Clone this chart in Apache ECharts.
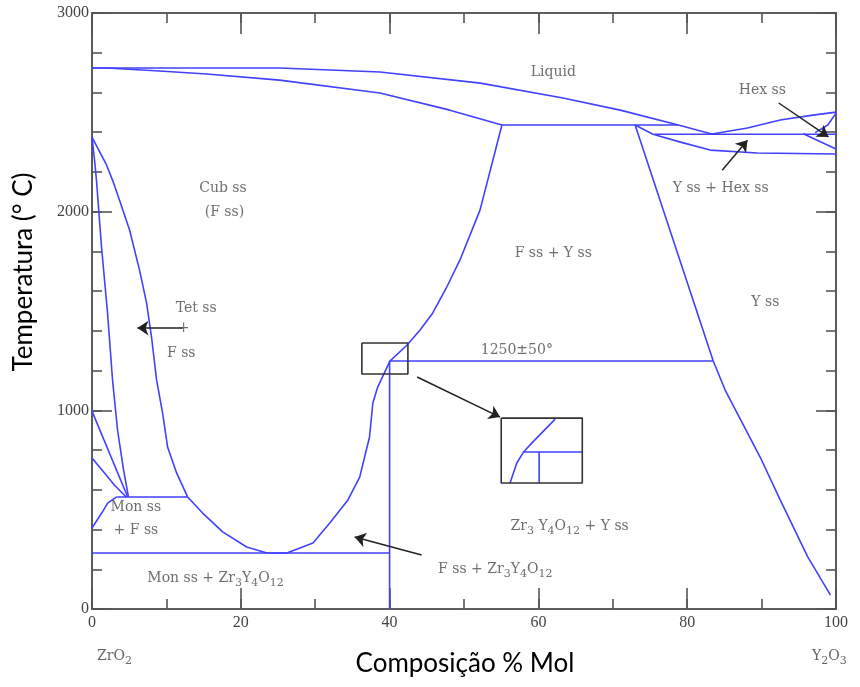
<!DOCTYPE html>
<html>
<head>
<meta charset="utf-8">
<title>ZrO2 - Y2O3</title>
<script src="https://cdn.jsdelivr.net/npm/echarts@6/dist/echarts.min.js"></script>
<style>
  html, body { margin: 0; padding: 0; background: #fff; }
  #chart { width: 860px; height: 687px; }
</style>
</head>
<body>
<div id="chart"></div>
<script>
// eixos
const xRange = [0, 100]
const yRange = [0, 3000]
const xMajor = 20
const xMinor = 10
const yMajor = 1000
const yMinor = 200

// curvas do diagrama (% mol Y2O3, °C)
const liquidusUpper = [[0, 2723], [15.4, 2723], [25.2, 2723], [32, 2713], [38.7, 2703], [52.2, 2647], [63.3, 2572], [71.0, 2511], [78.8, 2436], [83.3, 2391], [88.1, 2421], [92.5, 2461], [96.9, 2486], [100, 2501]]
const liquidusLower = [[0, 2723], [1.95, 2723], [9.1, 2708], [15.4, 2693], [25.2, 2662], [38.7, 2597], [48.1, 2511], [55.1, 2436]]
const cubicBoundary = [[0, 2375], [1.95, 2235], [2.76, 2159], [3.7, 2058], [5.05, 1908], [6.39, 1706], [7.34, 1540], [8.0, 1369], [8.68, 1153], [9.49, 986], [10.16, 815], [11.37, 685], [12.85, 564], [14.87, 483], [17.56, 388], [20.79, 312], [23.5, 282], [26.2, 282], [29.7, 332], [31.96, 433], [34.4, 549], [35.98, 664], [37.3, 866], [37.75, 1037], [38.4, 1117], [40.04, 1248], [42.35, 1329], [44.1, 1404], [45.8, 1490], [47.7, 1622], [49.46, 1757], [52.15, 2008], [55.1, 2436]]
const tetBoundary = [[0, 2375], [0.34, 2260], [0.6, 2159], [1.28, 1822], [2.09, 1490], [2.76, 1153], [3.43, 901], [4.24, 700], [4.9, 564]]
const tetMonTop = [[0, 996], [4.8, 564]]
const tetMonMid = [[0, 760], [1.68, 684], [3.0, 624], [4.6, 564]]
const monBoundary = [[0, 408], [1.3, 483], [2.1, 533], [3.3, 564]]
const line564 = [[3.3, 564], [12.85, 564]]
const line282 = [[0, 282], [40, 282]]
const line40 = [[40, 0], [40, 1248]]
const line1250 = [[40, 1248], [83.5, 1248]]
const line2436 = [[55.1, 2436], [78.8, 2436]]
const yssLeft = [[73.0, 2436], [83.5, 1248], [85.1, 1102], [89.8, 765], [92.5, 549], [96.2, 262], [99.26, 70]]
const yssTop = [[73.0, 2436], [75.4, 2390], [79.1, 2350], [83.1, 2310], [89.4, 2295], [100, 2290]]
const hexLine = [[75.6, 2390], [100, 2390]]
const hexLower = [[95.6, 2392], [100, 2315]]
const hexUpper = [[97.2, 2398], [98.9, 2436], [100, 2496]]

// caixas do detalhe
const smallBox = [[36.27, 1339], [42.46, 1339], [42.46, 1183], [36.27, 1183], [36.27, 1339]]
const bigBox = [[55.0, 961], [65.9, 961], [65.9, 634], [55.0, 634], [55.0, 961]]
const insetCurve = [[56.19, 634], [57.1, 735], [58.0, 790], [59.1, 835], [62.25, 956]]
const insetH = [[58.0, 790], [65.9, 790]]
const insetV = [[60.1, 790], [60.1, 634]]

// setas [inicio, fim]
const arrows = [
  [[12.2, 1414], [6.1, 1414]],
  [[92.3, 2547], [98.99, 2376]],
  [[84.7, 2209], [88.1, 2360]],
  [[43.7, 1168], [54.85, 966]],
  [[44.3, 272], [35.3, 362]]
]

// textos das fases
const phaseNames = ['Liquid', 'Cub ss', '(F ss)', 'F ss + Y ss', 'Y ss', '1250±50°', 'Hex ss', 'Y ss + Hex ss', 'Tet ss', '+', 'F ss', 'Mon ss', '+ F ss', 'Mon ss + Zr{s|3}Y{s|4}O{s|12}', 'F ss + Zr{s|3}Y{s|4}O{s|12}', 'Zr{s|3} Y{s|4}O{s|12} + Y ss']
const phasePos = [[62.0, 2703], [17.6, 2119], [17.8, 1998], [62.0, 1792], [90.5, 1545], [57.1, 1304], [90.1, 2612], [84.5, 2119], [14.0, 1515], [12.3, 1414], [12.0, 1288], [5.9, 513], [5.9, 398], [16.6, 156], [54.2, 200], [64.2, 418]]

const blue = '#4141ff'
const serif = 'DejaVu Serif'
const axisColor = '#555'

function curve (data, color) {
  return {
    type: 'line',
    data: data,
    symbol: 'none',
    silent: true,
    animation: false,
    lineStyle: { color: color || blue, width: 1.6 },
    z: 3
  }
}

// um eixo: os ticks maiores e os menores usam eixos sobrepostos
function axis (pos, range, step, tickLen, showLabel) {
  return {
    type: 'value',
    position: pos,
    min: range[0],
    max: range[1],
    interval: step,
    axisLine: { onZero: false, lineStyle: { color: axisColor, width: 1.6 } },
    axisTick: { inside: true, length: tickLen, lineStyle: { color: axisColor, width: 1.6 } },
    splitLine: { show: false },
    axisLabel: {
      show: showLabel,
      margin: pos === 'bottom' ? 6 : 3,
      color: '#444',
      fontFamily: 'Liberation Serif',
      fontSize: 16,
      formatter: v => String(v)
    }
  }
}

const chart = echarts.init(document.getElementById('chart'))

const series = [
  liquidusUpper, liquidusLower, cubicBoundary, tetBoundary, tetMonTop, tetMonMid,
  monBoundary, line564, line282, line40, line1250, line2436, yssLeft, yssTop,
  hexLine, hexLower, hexUpper, insetCurve, insetH, insetV
].map(d => curve(d))

series.push(curve(smallBox, '#333'))
series.push(curve(bigBox, '#333'))

// setas
series.push({
  type: 'line',
  data: [],
  silent: true,
  animation: false,
  markLine: {
    silent: true,
    animation: false,
    symbol: ['none', 'arrow'],
    symbolSize: 11,
    label: { show: false },
    lineStyle: { color: '#222', width: 1.5, type: 'solid' },
    itemStyle: { color: '#111' },
    emphasis: { disabled: true },
    data: arrows.map(a => [{ coord: a[0] }, { coord: a[1] }])
  }
})

// rotulos
series.push({
  type: 'scatter',
  symbolSize: 0,
  silent: true,
  animation: false,
  data: phaseNames.map((n, i) => ({ name: n, value: phasePos[i] })),
  label: {
    show: true,
    position: 'inside',
    formatter: p => p.name,
    color: '#4a4a4a',
    fontFamily: serif,
    fontSize: 14,
    rich: {
      s: { fontFamily: serif, fontSize: 11, color: '#4a4a4a', padding: [10, 0, 0, 0] }
    }
  },
  z: 5
})

chart.setOption({
  backgroundColor: '#fff',
  animation: false,
  grid: { left: 92, right: 24, top: 13, bottom: 78 },
  xAxis: [
    axis('bottom', xRange, xMajor, 21, true),
    axis('bottom', xRange, xMinor, 10, false),
    axis('top', xRange, xMajor, 21, false),
    axis('top', xRange, xMinor, 10, false)
  ],
  yAxis: [
    axis('left', yRange, yMajor, 20, true),
    axis('left', yRange, yMinor, 10, false),
    axis('right', yRange, yMajor, 20, false),
    axis('right', yRange, yMinor, 10, false)
  ],
  series: series,
  graphic: [
    {
      type: 'text',
      x: 24,
      y: 272,
      rotation: Math.PI / 2,
      style: { text: 'Temperatura (° C)', font: '26px Lato', fill: '#000', align: 'center', verticalAlign: 'middle' }
    },
    {
      type: 'text',
      x: 465,
      y: 664,
      style: { text: 'Composição % Mol', font: '26px Lato', fill: '#000', align: 'center', verticalAlign: 'middle' }
    },
    {
      type: 'text',
      x: 97,
      y: 656,
      style: {
        text: 'ZrO{s|2}',
        font: '14px ' + serif,
        fill: '#666',
        verticalAlign: 'middle',
        rich: { s: { fontFamily: serif, fontSize: 11, fill: '#666', padding: [10, 0, 0, 0] } }
      }
    },
    {
      type: 'text',
      x: 812,
      y: 656,
      style: {
        text: 'Y{s|2}O{s|3}',
        font: '14px ' + serif,
        fill: '#666',
        verticalAlign: 'middle',
        rich: { s: { fontFamily: serif, fontSize: 11, fill: '#666', padding: [10, 0, 0, 0] } }
      }
    }
  ]
})
</script>
</body>
</html>
